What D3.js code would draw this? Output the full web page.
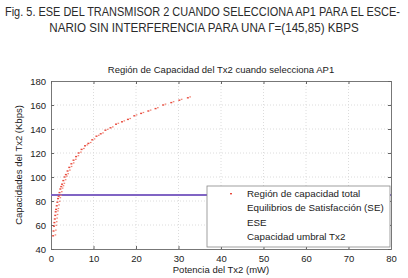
<!DOCTYPE html>
<html>
<head>
<meta charset="utf-8">
<script src="https://cdn.jsdelivr.net/npm/d3@7"></script>
<style>
  body { margin: 0; background: #fff; }
  svg { display: block; font-family: "Liberation Sans", Arial, sans-serif; }
</style>
</head>
<body>
<svg id="chart" width="408" height="278"></svg>
<script>
const captionLines = [
  "Fig. 5. ESE DEL TRANSMISOR 2 CUANDO SELECCIONA AP1 PARA EL ESCE-",
  "NARIO SIN INTERFERENCIA PARA UNA Γ=(145,85) KBPS"
];
const chartTitle = "Región de Capacidad del Tx2 cuando selecciona AP1";
const xLabel = "Potencia del Tx2 (mW)";
const yLabel = "Capacidades del Tx2 (Kbps)";

const xTicks = [0, 10, 20, 30, 40, 50, 60, 70, 80];
const yTicks = [40, 60, 80, 100, 120, 140, 160, 180];

// región de capacidad total
const regionX = [0.5, 0.6, 0.7, 0.8, 0.9, 1.0, 1.1, 1.2, 1.35, 1.5, 1.65, 1.8, 2.0, 2.2, 2.4, 2.6,
  2.9, 3.2, 3.5, 3.9, 4.3, 4.8, 5.3, 5.9, 6.5, 7.2, 8.0, 8.8, 9.7, 10.7, 11.7, 12.8, 14.0,
  15.3, 16.7, 18.1, 19.6, 21.2, 22.9, 24.6, 26.4, 28.3, 30.2, 32.2];
const regionY = [51, 55, 59, 62, 65, 68, 71, 73, 76, 79, 82, 84, 87, 90, 92, 94,
  97, 100, 102, 105, 108, 111, 114, 117, 120, 123, 126, 128, 131, 134, 136, 139, 141,
  144, 146, 148, 151, 153, 155, 157, 160, 162, 164, 166];

const umbralY = 85; // capacidad umbral Tx2

const legendItems = [
  "Región de capacidad total",
  "Equilibrios de Satisfacción (SE)",
  "ESE",
  "Capacidad umbral Tx2"
];

const svg = d3.select("#chart");
const margin = {left: 51, right: 17, top: 81, bottom: 29};
const W = 408, H = 278;

const x = d3.scaleLinear().domain([0, 80]).range([margin.left, W - margin.right]);
const y = d3.scaleLinear().domain([40, 180]).range([H - margin.bottom, margin.top]);

// caption, squeezed horizontally to the width it has in the figure
const capWidths = [395, 310];
const capCenters = [[5, 16, "start"], [204, 32, "middle"]];
captionLines.forEach((line, i) => {
  const t = svg.append("text")
    .attr("font-size", 12.5).attr("fill", "#2a2a2a")
    .attr("text-anchor", capCenters[i][2])
    .text(line);
  const k = Math.min(1, capWidths[i] / t.node().getComputedTextLength());
  t.attr("transform", `translate(${capCenters[i][0]},${capCenters[i][1]}) scale(${k},1)`);
});

// grid
const grid = svg.append("g").attr("stroke", "#dcdcdc").attr("stroke-width", 1)
  .attr("stroke-dasharray", "1,2");
grid.selectAll(".gx").data(xTicks.slice(1, -1)).enter().append("line")
  .attr("x1", d => x(d)).attr("x2", d => x(d))
  .attr("y1", y(40)).attr("y2", y(180));
grid.selectAll(".gy").data(yTicks.slice(1, -1)).enter().append("line")
  .attr("y1", d => y(d)).attr("y2", d => y(d))
  .attr("x1", x(0)).attr("x2", x(80));

// axes
svg.append("g")
  .attr("transform", `translate(0,${y(40)})`)
  .call(d3.axisBottom(x).tickValues(xTicks).tickSize(-3).tickPadding(6));
svg.append("g")
  .attr("transform", `translate(${x(0)},0)`)
  .call(d3.axisLeft(y).tickValues(yTicks).tickSize(-3).tickPadding(5));
svg.append("g")
  .attr("transform", `translate(0,${y(180)})`)
  .call(d3.axisTop(x).tickValues(xTicks).tickSize(-3).tickFormat(""));
svg.append("g")
  .attr("transform", `translate(${x(80)},0)`)
  .call(d3.axisRight(y).tickValues(yTicks).tickSize(-3).tickFormat(""));

svg.selectAll(".domain").attr("stroke", "#777");
svg.selectAll(".tick line").attr("stroke", "#666");
svg.selectAll(".tick text").attr("font-size", 9.5).attr("fill", "#222");

// purple threshold line
svg.append("line")
  .attr("x1", x(0)).attr("x2", x(80))
  .attr("y1", y(umbralY)).attr("y2", y(umbralY))
  .attr("stroke", "#8064c4").attr("stroke-width", 2);

// capacity region dots
const pts = d3.zip(regionX, regionY);
svg.append("g").attr("fill", "#e8493c")
  .selectAll("rect").data(pts).enter().append("rect")
  .attr("x", d => x(d[0]) - 1).attr("y", d => y(d[1]) - 0.7)
  .attr("width", 2).attr("height", 1.4);
svg.append("g").attr("fill", "#f08070")
  .selectAll("rect").data(pts).enter().append("rect")
  .attr("x", d => x(d[0]) + 1.5).attr("y", d => y(d[1]) - 1.5)
  .attr("width", 1.6).attr("height", 1.2);

// title and labels
svg.append("text")
  .attr("x", (x(0) + x(80)) / 2).attr("y", 73)
  .attr("text-anchor", "middle").attr("font-size", 9.5).attr("fill", "#222")
  .text(chartTitle);
svg.append("text")
  .attr("x", (x(0) + x(80)) / 2).attr("y", 273)
  .attr("text-anchor", "middle").attr("font-size", 9.5).attr("fill", "#222")
  .text(xLabel);
svg.append("text")
  .attr("transform", `translate(22,${(y(40) + y(180)) / 2}) rotate(-90)`)
  .attr("text-anchor", "middle").attr("font-size", 9.5).attr("fill", "#222")
  .text(yLabel);

// legend
const lg = svg.append("g").attr("transform", "translate(207,186)");
lg.append("rect").attr("width", 183).attr("height", 61)
  .attr("fill", "#fff").attr("stroke", "#888").attr("stroke-width", 0.8);
lg.selectAll("text").data(legendItems).enter().append("text")
  .attr("x", 40).attr("y", (d, i) => 11 + i * 14.4)
  .attr("font-size", 9.8).attr("fill", "#222")
  .text(d => d);
lg.append("rect").attr("x", 23).attr("y", 7).attr("width", 2).attr("height", 1.4)
  .attr("fill", "#e8493c");
</script>
</body>
</html>
